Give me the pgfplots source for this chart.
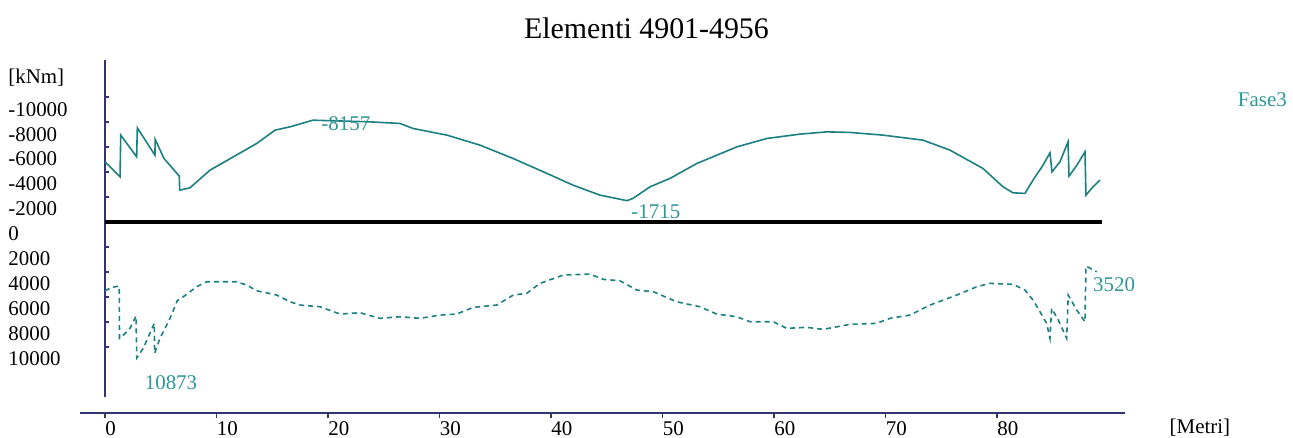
\documentclass[border=0pt]{standalone}
\usepackage{fontspec}
\setmainfont{Liberation Serif}
\usepackage{pgfplots}
\pgfplotsset{compat=1.18}
\definecolor{axnavy}{RGB}{52,52,112}
\definecolor{tealline}{RGB}{28,128,128}
\definecolor{tealtext}{RGB}{48,150,150}
\begin{document}
\begin{tikzpicture}
\path[use as bounding box] (-52.5bp,-20.5bp) rectangle (594bp,198.5bp);
\begin{axis}[at={(0,0)}, anchor=south west,
  x=5.575bp, y=0.00625bp, y dir=reverse,
  xmin=0, xmax=91.5, ymin=-12960, ymax=14000,
  axis x line=none, axis y line*=left,
  axis line style={axnavy, line width=1bp, -},
  scaled y ticks=false, scaled x ticks=false,
  ytick={-10000,-8000,-6000,-4000,-2000,0,2000,4000,6000,8000,10000},
  yticklabels={-10000,-8000,-6000,-4000,-2000,0,2000,4000,6000,8000,10000},
  yticklabel style={anchor=west, inner sep=0pt, xshift=-48.5bp, yshift=-6bp, font=\fontsize{10.5}{12}\selectfont, text=black},
  tick align=inside, major tick length=2bp, tick style={axnavy, line width=0.8bp},
  clip=false,
]
\addplot[black, line width=2bp] coordinates {(0,0) (89.4,0)};
\addplot[tealline, line width=0.8bp] coordinates {
(0,-4824) (1.35,-3624) (1.41,-6960) (2.84,-5224) (2.90,-7544) (4.19,-5760) (4.48,-5360)
(4.50,-6616) (5.29,-5096) (6.66,-3680) (6.70,-2560) (7.62,-2744) (9.42,-4160) (11.51,-5224)
(13.61,-6296) (15.25,-7360) (16.59,-7624) (18.65,-8157) (23.77,-8024) (26.46,-7896)
(27.62,-7496) (30.67,-6960) (33.63,-6160) (36.59,-5096) (39.64,-3896) (41.97,-2960)
(44.39,-2160) (46.82,-1715) (47.35,-1896) (48.88,-2824) (50.67,-3496) (53.09,-4696)
(56.68,-6024) (59.37,-6696) (62.33,-7040) (64.75,-7224) (66.82,-7176) (69.78,-6960)
(73.36,-6560) (75.78,-5760) (78.74,-4296) (80.54,-2824) (81.43,-2344) (82.51,-2296)
(83.23,-3360) (84.13,-4560) (84.75,-5544) (84.93,-4024) (85.65,-4824) (86.37,-6424)
(86.46,-3680) (87.17,-4560) (87.89,-5624) (87.98,-2160) (88.61,-2824) (89.24,-3360)
};
\addplot[tealline, line width=0.8bp, dash pattern=on 2.5bp off 2bp] coordinates {
(0,5500) (0.60,5224) (1.28,5120) (1.30,9304) (1.50,9176) (2.24,8504) (2.78,7520)
(2.85,10873) (3.43,10104) (4.42,8104) (4.45,10504) (4.93,9304) (5.83,7704) (6.48,6296)
(7.02,5976) (8.22,5176) (9.12,4776) (11.81,4776) (12.71,5040) (13.61,5496) (15.40,5840)
(16.59,6376) (17.49,6640) (19.28,6776) (21.08,7360) (22.87,7256) (24.66,7704) (26.46,7576)
(28.25,7704) (30.04,7440) (31.54,7360) (33.03,6824) (35.13,6640) (36.62,5840) (37.82,5704)
(39.01,4904) (41.10,4240) (43.50,4160) (44.69,4584) (46.19,4696) (47.69,5440) (49.18,5576)
(51.27,6376) (53.36,6776) (54.86,7360) (56.65,7576) (57.85,7976) (59.94,7976) (61.14,8504)
(62.93,8424) (64.42,8584) (66.82,8184) (69.21,8104) (70.40,7704) (72.20,7440) (73.99,6640)
(76.39,5840) (78.18,5176) (79.37,4904) (81.46,4984) (82.51,5440) (83.23,6240) (83.86,7176)
(84.45,8104) (84.75,9304) (84.90,6904) (85.50,7840) (86.25,9304) (86.39,5840) (87.15,7040)
(87.89,7976) (87.98,3520) (88.94,3976)
};
\node[font=\fontsize{15}{17}\selectfont] at (axis cs:48.56,-15520) {Elementi 4901-4956};
\node[anchor=west, inner sep=0pt, font=\fontsize{10.5}{12}\selectfont] at (axis cs:-8.7,-11600) {[kNm]};
\node[text=tealtext, font=\fontsize{10.5}{12}\selectfont] at (axis cs:103.8,-9760) {Fase3};
\node[font=\fontsize{10.5}{12}\selectfont] at (axis cs:98.2,16480) {[Metri]};
\node[text=tealtext, font=\fontsize{10.5}{12}\selectfont] at (axis cs:21.6,-7920) {-8157};
\node[text=tealtext, font=\fontsize{10.5}{12}\selectfont] at (axis cs:49.4,-800) {-1715};
\node[text=tealtext, font=\fontsize{10.5}{12}\selectfont] at (axis cs:5.92,12880) {10873};
\node[text=tealtext, font=\fontsize{10.5}{12}\selectfont] at (axis cs:90.5,5040) {3520};
\end{axis}
\begin{axis}[at={(-12.5bp,-8bp)}, anchor=south west,
  x=5.575bp, y=1bp, xmin=-2.24, xmax=91.5, ymin=0, ymax=1,
  axis x line*=bottom, axis y line=none,
  axis line style={axnavy, line width=1bp, -},
  scaled x ticks=false,
  xtick={0,10,20,30,40,50,60,70,80},
  xticklabels={0,10,20,30,40,50,60,70,80},
  tick align=outside, major tick length=2.5bp, tick style={axnavy, line width=0.8bp},
  xticklabel style={anchor=north west, inner sep=0pt, yshift=-1.5bp, font=\fontsize{10.5}{12}\selectfont},
]
\addplot[draw=none] coordinates {(0,0.5)};
\end{axis}
\end{tikzpicture}
\end{document}
